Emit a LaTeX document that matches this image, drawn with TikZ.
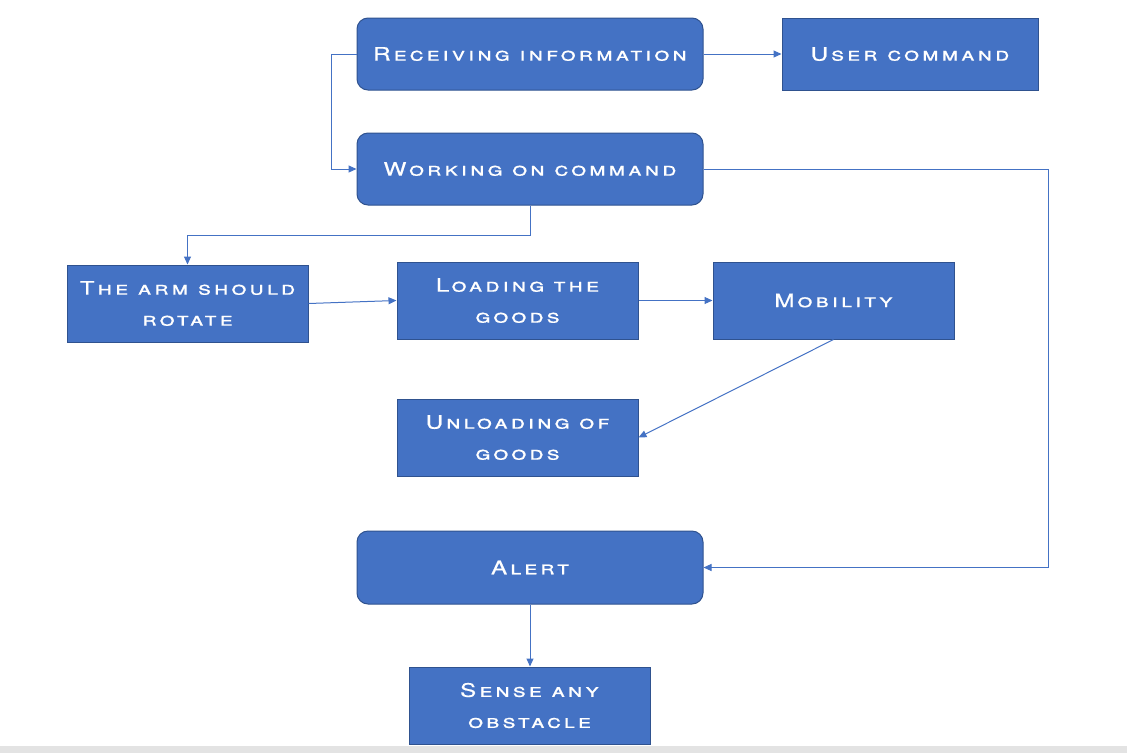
\documentclass[tikz,border=0pt]{standalone}
\usepackage{fontspec}
\usetikzlibrary{arrows.meta}
\newfontfamily\boxfont[FakeStretch=1.3,LetterSpace=16,FakeBold=0.6]{TeX Gyre Heros}
\definecolor{boxblue}{HTML}{4472C4}
\definecolor{boxedge}{HTML}{2F528F}
\definecolor{bargrey}{HTML}{E3E3E3}
\tikzset{
  stepround/.style={draw=boxedge, fill=boxblue, line width=1pt, rounded corners=11pt,
    minimum width=346pt, minimum height=72pt, inner sep=0pt, text=white, align=center,
    font=\boxfont\scshape\fontsize{18.6}{31}\selectfont},
  steprect/.style={draw=boxedge, fill=boxblue, line width=1pt,
    minimum width=241pt, minimum height=77pt, inner sep=0pt, text=white, align=center,
    font=\boxfont\scshape\fontsize{18.6}{31}\selectfont},
  flow/.style={draw=boxblue, line width=1pt, -{Triangle[length=8pt,width=7pt]}}
}
\begin{document}
\begin{tikzpicture}[x=1pt, y=-1pt]
% Page size and the grey bar at the bottom
\useasboundingbox (0,0) rectangle (1127,753);
\fill[bargrey] (0,746) rectangle (1127,753);

% Boxes
\node[stepround] (recv) at (530,54) {Receiving information};
\node[steprect, minimum width=256pt, minimum height=72pt] (user) at (910,54) {User command};
\node[stepround] (work) at (530,169) {Working on command};
\node[steprect] (arm) at (187.5,303.5) {The arm should\\rotate};
\node[steprect] (load) at (517.5,300.5) {Loading the\\goods};
\node[steprect] (mobil) at (833.5,300.5) {Mobility};
\node[steprect] (unload) at (517.5,437.5) {Unloading of\\goods};
\node[stepround, minimum height=73pt] (alert) at (530,567.5) {Alert};
\node[steprect] (sense) at (529.5,705.5) {Sense any\\obstacle};

% Connectors
\draw[flow] (recv.east) -- (user.west);
\draw[flow] (recv.west) -- ++(-25,0) |- (work.west);
\draw[flow] (work.south) -- ++(0,30) -| (arm.north);
\draw[flow] (arm.east) -- (load.west);
\draw[flow] (load.east) -- (mobil.west);
\draw[flow] (mobil.south) -- (unload.east);
\draw[flow] (work.east) -- ++(345,0) |- (alert.east);
\draw[flow] (alert.south) -- (alert.south |- sense.north);
\end{tikzpicture}
\end{document}
